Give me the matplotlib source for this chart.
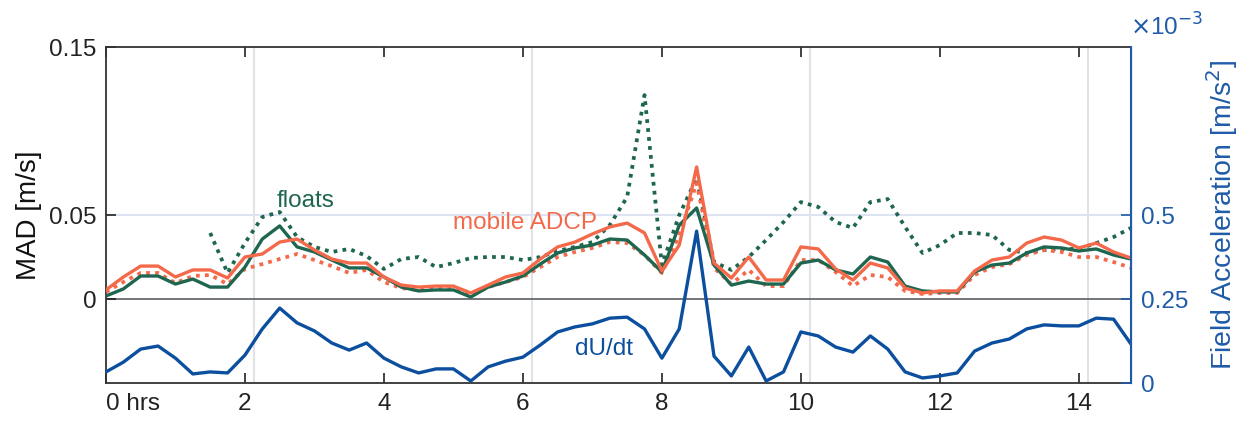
import numpy as np
import matplotlib
matplotlib.use("Agg")
import matplotlib.pyplot as plt

plt.rcParams['font.family'] = ['Liberation Sans', 'DejaVu Sans']

# time axis, every 15 min
hours = np.arange(60) * 0.25

# MAD [m/s]
floats_mad = [0.0018, 0.0060, 0.0137, 0.0137, 0.0089, 0.0119, 0.0071, 0.0071, 0.0190, 0.0357,
              0.0435, 0.0310, 0.0280, 0.0232, 0.0185, 0.0185, 0.0131, 0.0071, 0.0048, 0.0054,
              0.0054, 0.0012, 0.0071, 0.0101, 0.0137, 0.0208, 0.0274, 0.0304, 0.0321, 0.0357,
              0.0351, 0.0262, 0.0161, 0.0440, 0.0542, 0.0202, 0.0083, 0.0107, 0.0089, 0.0089,
              0.0214, 0.0232, 0.0173, 0.0149, 0.0250, 0.0220, 0.0077, 0.0048, 0.0042, 0.0042,
              0.0161, 0.0202, 0.0214, 0.0274, 0.0310, 0.0304, 0.0286, 0.0298, 0.0262, 0.0238]
adcp_mad = [0.0054, 0.0131, 0.0196, 0.0196, 0.0131, 0.0173, 0.0173, 0.0125, 0.0250, 0.0268,
            0.0339, 0.0357, 0.0292, 0.0238, 0.0214, 0.0214, 0.0131, 0.0083, 0.0071, 0.0077,
            0.0077, 0.0036, 0.0083, 0.0131, 0.0155, 0.0238, 0.0310, 0.0339, 0.0387, 0.0429,
            0.0452, 0.0393, 0.0167, 0.0321, 0.0786, 0.0214, 0.0125, 0.0250, 0.0113, 0.0113,
            0.0310, 0.0298, 0.0179, 0.0113, 0.0214, 0.0185, 0.0065, 0.0036, 0.0048, 0.0048,
            0.0167, 0.0232, 0.0250, 0.0333, 0.0369, 0.0351, 0.0304, 0.0333, 0.0280, 0.0244]
# second (dotted) estimates
adcp_mad2 = [0.0042, 0.0101, 0.0155, 0.0155, 0.0095, 0.0137, 0.0143, 0.0089, 0.0179, 0.0208,
             0.0238, 0.0268, 0.0232, 0.0196, 0.0155, 0.0173, 0.0101, 0.0065, 0.0054, 0.0060,
             0.0060, 0.0024, 0.0071, 0.0101, 0.0131, 0.0190, 0.0250, 0.0280, 0.0304, 0.0339,
             0.0333, 0.0262, 0.0155, 0.0381, 0.0690, 0.0185, 0.0089, 0.0173, 0.0077, 0.0077,
             0.0232, 0.0232, 0.0161, 0.0077, 0.0143, 0.0131, 0.0048, 0.0030, 0.0036, 0.0036,
             0.0143, 0.0190, 0.0208, 0.0262, 0.0292, 0.0280, 0.0250, 0.0250, 0.0220, 0.0185]
floats_mad2 = [np.nan] * 6 + [
               0.0393, 0.0155, 0.0333, 0.0488,
               0.0518, 0.0369, 0.0310, 0.0280, 0.0298, 0.0256, 0.0179, 0.0238, 0.0250, 0.0190,
               0.0214, 0.0244, 0.0250, 0.0250, 0.0232, 0.0250, 0.0286, 0.0310, 0.0339, 0.0440,
               0.0607, 0.1214, 0.0202, 0.0500, 0.0720, 0.0220, 0.0173, 0.0250, 0.0351, 0.0458,
               0.0577, 0.0548, 0.0458, 0.0423, 0.0577, 0.0595, 0.0429, 0.0274, 0.0321, 0.0393,
               0.0393, 0.0381, 0.0292, 0.0274, 0.0292, 0.0298, 0.0298, 0.0333, 0.0369, 0.0423]

# field acceleration dU/dt [1e-3 m/s^2]
dudt = [0.033, 0.062, 0.101, 0.110, 0.074, 0.027, 0.033, 0.030, 0.083, 0.161,
        0.223, 0.179, 0.155, 0.119, 0.098, 0.119, 0.074, 0.048, 0.030, 0.042,
        0.042, 0.006, 0.048, 0.065, 0.077, 0.113, 0.152, 0.167, 0.176, 0.193,
        0.196, 0.161, 0.074, 0.161, 0.452, 0.080, 0.021, 0.107, 0.006, 0.033,
        0.152, 0.140, 0.107, 0.092, 0.140, 0.101, 0.033, 0.015, 0.021, 0.030,
        0.095, 0.119, 0.131, 0.161, 0.173, 0.170, 0.170, 0.193, 0.190, 0.116]

xticks = [0, 2, 4, 6, 8, 10, 12, 14]
xticklabels = ['0 hrs', '2', '4', '6', '8', '10', '12', '14']
vgrid = [2.125, 6.125, 10.125, 14.125]

GREEN = '#1e6650'
ORANGE = '#f4694a'
BLUE = '#0b4f9e'
AXBLUE = '#1f5ba8'

fig = plt.figure(figsize=(12.45, 4.22), dpi=100)
ax = fig.add_axes([0.0851, 0.0924, 0.8233, 0.7962])
ax2 = ax.twinx()

for xv in vgrid:
    ax.axvline(xv, color='#dadde2', lw=1.2, zorder=0)
ax.axhline(0.05, color='#dde3f3', lw=1.5, zorder=0)
ax.axhline(0, color='#5a5d63', lw=1.2, zorder=1)

ax.plot(hours, floats_mad2, color=GREEN, lw=2.7, ls=(0, (1, 1.4)), zorder=3)
ax.plot(hours, adcp_mad2, color=ORANGE, lw=2.7, ls=(0, (1, 1.4)), zorder=3)
ax.plot(hours, floats_mad, color=GREEN, lw=2.4, zorder=4)
ax.plot(hours, adcp_mad, color=ORANGE, lw=2.4, zorder=4)
ax2.plot(hours, dudt, color=BLUE, lw=2.4)

ax.set_xlim(0, 14.75)
ax.set_ylim(-0.05, 0.15)
ax2.set_ylim(0, 1.0)

ax.set_xticks(xticks)
ax.set_xticklabels(xticklabels)
ax.get_xticklabels()[0].set_ha('left')
ax.set_yticks([0, 0.05, 0.15])
ax.set_yticklabels(['0', '0.05', '0.15'])
ax2.set_yticks([0, 0.25, 0.5])
ax2.set_yticklabels(['0', '0.25', '0.5'])

ax.tick_params(axis='both', direction='in', length=7, width=1.2, labelsize=17.5,
               colors='#222222', top=True, pad=7)
ax.tick_params(axis='y', right=False)
ax2.tick_params(axis='y', direction='in', length=7, width=1.2, labelsize=17.5,
                colors=AXBLUE, pad=7)

for s in ['left', 'top', 'bottom']:
    ax.spines[s].set_color('#333333')
    ax.spines[s].set_linewidth(1.3)
ax2.spines['right'].set_color(AXBLUE)
ax2.spines['right'].set_linewidth(1.5)
for s in ['left', 'top', 'bottom']:
    ax2.spines[s].set_visible(False)

ax.set_ylabel('MAD [m/s]', fontsize=20, color='#111111')
ax.yaxis.set_label_coords(-0.062, 0.5)
ax2.set_ylabel('Field Acceleration [m/s$^2$]', fontsize=20.5, color=AXBLUE)
ax2.yaxis.set_label_coords(1.071, 0.5)

ax2.text(0.999, 1.033, r'$\times$10$^{-3}$', transform=ax.transAxes, fontsize=17.5,
         color=AXBLUE, ha='left', va='baseline')

ax.text(2.45, 0.0548, 'floats', color=GREEN, fontsize=17.5, va='baseline')
ax.text(5.0, 0.0417, 'mobile ADCP', color=ORANGE, fontsize=17.5, va='baseline')
ax2.text(6.75, 0.083, 'dU/dt', color=BLUE, fontsize=17.5, va='baseline')

fig.savefig('out.png', dpi=100)
